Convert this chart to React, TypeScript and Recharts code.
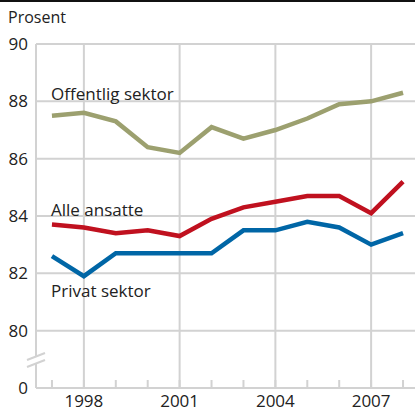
import { LineChart, Line, XAxis, YAxis, CartesianGrid, ReferenceLine } from 'recharts';

const years = [1997, 1998, 1999, 2000, 2001, 2002, 2003, 2004, 2005, 2006, 2007, 2008];
const offentlig = [87.5, 87.6, 87.3, 86.4, 86.2, 87.1, 86.7, 87.0, 87.4, 87.9, 88.0, 88.3];
const alle = [83.7, 83.6, 83.4, 83.5, 83.3, 83.9, 84.3, 84.5, 84.7, 84.7, 84.1, 85.2];
const privat = [82.6, 81.9, 82.7, 82.7, 82.7, 82.7, 83.5, 83.5, 83.8, 83.6, 83.0, 83.4];
const yearTicks = [1998, 2001, 2004, 2007];
// 78 stands in for 0 below the axis break
const valueTicks = [78, 80, 82, 84, 86, 88, 90];

const grid = '#d2d2d2';
const font = '"Open Sans", sans-serif';

const data = years.map((y, i) => ({
  year: y,
  offentlig: offentlig[i],
  alle: alle[i],
  privat: privat[i],
}));

const labelStyle: React.CSSProperties = {
  position: 'absolute',
  left: 51,
  fontFamily: font,
  fontSize: 17,
  color: '#222',
  lineHeight: '20px',
};

export default function App() {
  return (
    <div style={{ position: 'absolute', left: 0, top: 0, width: 415, height: 414, overflow: 'hidden', background: '#fff' }}>
      <div style={{ position: 'absolute', left: 0, top: 0, width: 415, height: 2, background: '#111' }} />
      <div style={{ position: 'absolute', left: 8, top: 6, fontFamily: font, fontSize: 16, color: '#222' }}>Prosent</div>
      <LineChart width={419} height={414} data={data} margin={{ top: 44, right: 0, left: 0, bottom: 0 }}>
        <CartesianGrid stroke={grid} strokeWidth={2} />
        <XAxis
          dataKey="year"
          type="number"
          domain={[1996.5, 2008.5]}
          ticks={yearTicks}
          tickLine={false}
          axisLine={{ stroke: grid, strokeWidth: 2 }}
          tick={{ fontSize: 17, fill: '#222', fontFamily: font }}
          tickMargin={1}
          height={26}
        />
        <YAxis
          type="number"
          domain={[78, 90]}
          ticks={valueTicks}
          width={36}
          tickLine={false}
          axisLine={{ stroke: grid, strokeWidth: 2 }}
          tickFormatter={(v: number) => (v === 78 ? '0' : String(v))}
          tick={{ fontSize: 17, fill: '#222', fontFamily: font }}
        />
        {years.map((y) => (
          <ReferenceLine
            key={y}
            segment={[{ x: y, y: 78 }, { x: y, y: 78.28 }]}
            stroke={grid}
            strokeWidth={2}
          />
        ))}
        <Line dataKey="offentlig" stroke="#9ca06f" strokeWidth={4.5} dot={false} isAnimationActive={false} />
        <Line dataKey="alle" stroke="#c0111f" strokeWidth={4.5} dot={false} isAnimationActive={false} />
        <Line dataKey="privat" stroke="#0066a6" strokeWidth={4.5} dot={false} isAnimationActive={false} />
      </LineChart>
      <svg width={60} height={60} style={{ position: 'absolute', left: 0, top: 340 }}>
        <polygon points="27,20 45,13 45,20 27,27" fill="#fff" />
        <line x1={27} y1={20} x2={45} y2={13} stroke={grid} strokeWidth={2} />
        <line x1={27} y1={27} x2={45} y2={20} stroke={grid} strokeWidth={2} />
      </svg>
      <div style={{ ...labelStyle, top: 84 }}>Offentlig sektor</div>
      <div style={{ ...labelStyle, top: 200 }}>Alle ansatte</div>
      <div style={{ ...labelStyle, top: 281 }}>Privat sektor</div>
    </div>
  );
}
